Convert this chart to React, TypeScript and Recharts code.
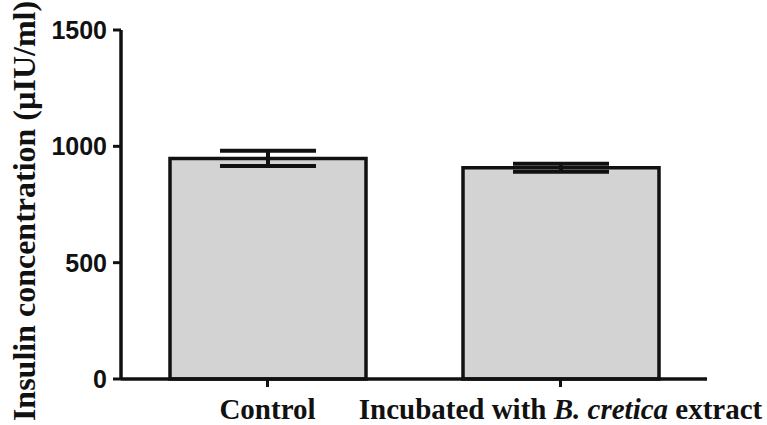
import React from 'react';
import { BarChart, Bar, XAxis, YAxis, ErrorBar, Label } from 'recharts';

const categories = ['Control', 'Incubated with B. cretica extract'];
const means = [948, 908];
const errors = [33, 17];
const yTicks = [0, 500, 1000, 1500];
const yLabel = 'Insulin concentration (\u00b5IU/ml)';

const data = categories.map((c, i) => ({ name: c, value: means[i], err: errors[i] }));

const SERIF = "'Liberation Serif', 'Times New Roman', serif";
const SANS = "'Liberation Sans', Arial, sans-serif";

const XTick = (props: any) => {
  const { x, y, payload } = props;
  const v: string = payload.value;
  const m = v.match(/^(.*?)(B\. cretica)(.*)$/);
  return (
    <text
      x={x}
      y={y}
      dy={30}
      textAnchor="middle"
      fontFamily={SERIF}
      fontWeight="bold"
      fontSize={29}
      fill="#111"
      style={{ whiteSpace: 'pre' }}
    >
      {m ? (
        <>
          <tspan>{m[1]}</tspan>
          <tspan fontStyle="italic">{m[2]}</tspan>
          <tspan>{m[3]}</tspan>
        </>
      ) : (
        v
      )}
    </text>
  );
};

const YLabel = () => (
  <text
    x={35}
    y={211}
    transform="rotate(-90, 35, 211)"
    textAnchor="middle"
    fontFamily={SERIF}
    fontWeight="bold"
    fontSize={32}
    fill="#111"
  >
    {yLabel}
  </text>
);

export default function App() {
  return (
    <div style={{ position: 'absolute', left: 0, top: 0, width: 767, height: 425, background: '#fff' }}>
      <BarChart
        width={767}
        height={425}
        data={data}
        margin={{ top: 30, right: 60, bottom: 0, left: 0 }}
        barSize={196}
      >
        <XAxis
          dataKey="name"
          height={46}
          interval={0}
          tickSize={8}
          axisLine={{ stroke: '#111', strokeWidth: 3.5 }}
          tickLine={{ stroke: '#111', strokeWidth: 3 }}
          tick={<XTick />}
        />
        <YAxis
          width={121}
          domain={[0, 1500]}
          ticks={yTicks}
          interval={0}
          tickSize={8}
          tickMargin={6}
          axisLine={{ stroke: '#111', strokeWidth: 3.5 }}
          tickLine={{ stroke: '#111', strokeWidth: 3 }}
          tick={{ fontFamily: SANS, fontWeight: 'bold', fontSize: 25, fill: '#111' }}
        >
          <Label content={<YLabel />} />
        </YAxis>
        <Bar dataKey="value" fill="#d3d3d3" stroke="#111" strokeWidth={3.5} isAnimationActive={false}>
          <ErrorBar dataKey="err" width={48} stroke="#111" strokeWidth={4} isAnimationActive={false} />
        </Bar>
      </BarChart>
    </div>
  );
}
